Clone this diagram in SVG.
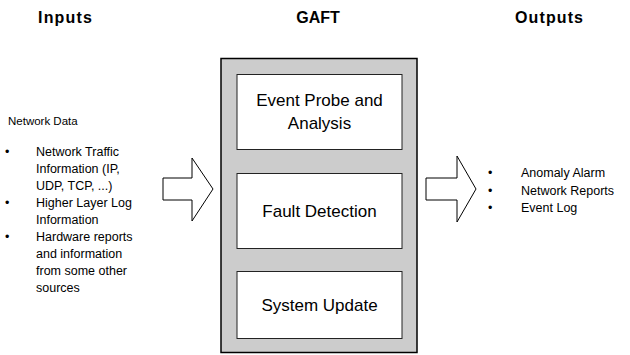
<svg xmlns="http://www.w3.org/2000/svg" width="630" height="355" viewBox="0 0 630 355">
<style>
text{font-family:"Liberation Sans",Arial,sans-serif;fill:#000}
.title{font-size:16px;font-weight:bold}
.box{font-size:17px;text-anchor:middle}
.list{font-size:12.5px}
.inner{fill:#fff;stroke:#222;stroke-width:1}
.arrow{fill:#fff;stroke:#000;stroke-width:1}
</style>
<rect width="630" height="355" fill="#fff"/>
<text class="title" x="65" y="23" text-anchor="middle" textLength="54">Inputs</text>
<text class="title" x="318" y="23" text-anchor="middle">GAFT</text>
<text class="title" x="549" y="23" text-anchor="middle" textLength="68">Outputs</text>
<g id="gaft">
<rect x="221" y="58.5" width="196" height="294" fill="#cccccc" stroke="#000" stroke-width="1.5"/>
</g>
<g id="event-probe">
<rect class="inner" x="237" y="74.5" width="165" height="75"/>
<text class="box" x="319.5" y="106">Event Probe and</text>
<text class="box" x="319.5" y="129">Analysis</text>
</g>
<g id="fault-detection">
<rect class="inner" x="237" y="173.5" width="165" height="75"/>
<text class="box" x="319.5" y="217">Fault Detection</text>
</g>
<g id="system-update">
<rect class="inner" x="237" y="271.5" width="165" height="67"/>
<text class="box" x="319.5" y="311">System Update</text>
</g>
<g id="inputs">
<text x="8" y="125" style="font-size:11.5px">Network Data</text>
<g class="list">
<text x="5" y="156">•</text>
<text x="36" y="156">Network Traffic</text>
<text x="36" y="173">Information (IP,</text>
<text x="36" y="190">UDP, TCP, ...)</text>
<text x="5" y="207">•</text>
<text x="36" y="207">Higher Layer Log</text>
<text x="36" y="224">Information</text>
<text x="5" y="241">•</text>
<text x="36" y="241">Hardware reports</text>
<text x="36" y="258">and information</text>
<text x="36" y="275">from some other</text>
<text x="36" y="292">sources</text>
</g>
</g>
<g id="outputs">
<g class="list">
<text x="488" y="177">•</text>
<text x="521" y="177">Anomaly Alarm</text>
<text x="488" y="194.5">•</text>
<text x="521" y="194.5">Network Reports</text>
<text x="488" y="212">•</text>
<text x="521" y="212">Event Log</text>
</g>
</g>
<g id="connectors">
<polygon class="arrow" points="163,178 192,178 192,158 213,189 192,221 192,200 163,200"/>
<polygon class="arrow" points="426,178 457,178 457,156 476,189 457,222 457,200 426,200"/>
</g>
</svg>
